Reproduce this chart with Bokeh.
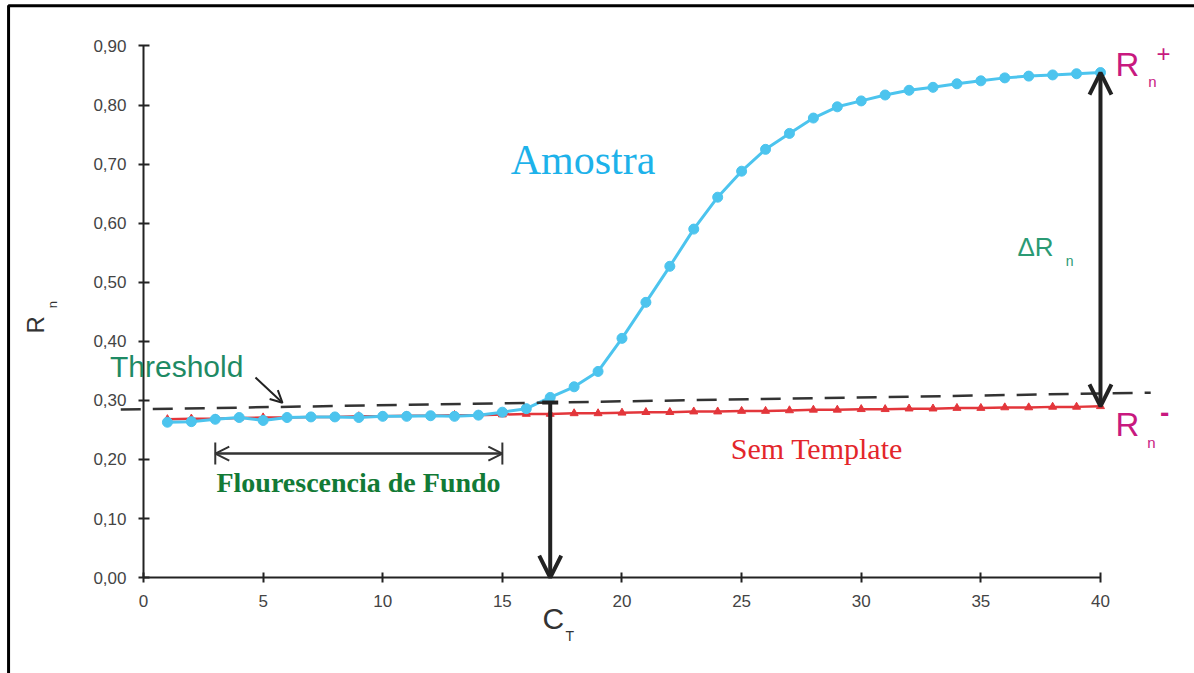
import math
import numpy as np
from bokeh.plotting import figure
from bokeh.models import (Range1d, Label, Arrow, OpenHead, TeeHead, BoxAnnotation,
                          FixedTicker, CustomJSTickFormatter)
from bokeh.embed import file_html
from bokeh.resources import INLINE

# amplification data (normalised reporter signal per cycle)
cycles = list(range(1, 41))
amostra = [0.263, 0.264, 0.268, 0.271, 0.266, 0.271, 0.272, 0.272, 0.271, 0.273,
           0.273, 0.274, 0.273, 0.275, 0.280, 0.286, 0.305, 0.323, 0.349, 0.405,
           0.466, 0.527, 0.590, 0.644, 0.688, 0.725, 0.752, 0.778, 0.797, 0.807,
           0.817, 0.825, 0.830, 0.836, 0.841, 0.846, 0.849, 0.851, 0.853, 0.855]
sem_template = [0.268, 0.269, 0.269, 0.270, 0.271, 0.271, 0.272, 0.272, 0.273, 0.273,
                0.274, 0.274, 0.275, 0.275, 0.276, 0.277, 0.277, 0.278, 0.278, 0.279,
                0.280, 0.280, 0.281, 0.281, 0.282, 0.282, 0.283, 0.284, 0.284, 0.285,
                0.285, 0.286, 0.286, 0.287, 0.287, 0.288, 0.288, 0.289, 0.289, 0.290]
threshold_x = [-0.95, 42.1]
threshold_y = [0.2845, 0.313]
ct_cycle = 17
fundo_range = [3, 15]
x_ticks = [0, 5, 10, 15, 20, 25, 30, 35, 40]
y_ticks = [0.0, 0.1, 0.2, 0.3, 0.4, 0.5, 0.6, 0.7, 0.8, 0.9]

SANS = "Liberation Sans"
SERIF = "Liberation Serif"
BLUE = "#4cc4ee"
RED = "#e3363b"
MAGENTA = "#c8197f"
INK = "#222222"

# the frame fills the whole canvas; axes are pinned at the data origin
p = figure(width=1194, height=673, output_backend="svg", toolbar_location=None,
           x_range=Range1d(-5.977, 43.93), y_range=Range1d(-0.1624, 0.977),
           min_border=0)
p.outline_line_color = None
p.grid.visible = False
p.background_fill_color = "white"

for ax, ticks, bounds in ((p.xaxis, x_ticks, (0, 40)), (p.yaxis, y_ticks, (0, 0.9))):
    ax.bounds = bounds
    ax.fixed_location = 0
    ax.ticker = FixedTicker(ticks=ticks)
    ax.axis_line_color = INK
    ax.axis_line_width = 2
    ax.major_tick_line_color = INK
    ax.major_tick_line_width = 2
    ax.minor_tick_line_color = None
    ax.major_label_text_font = SANS
    ax.major_label_text_font_size = "17px"
    ax.major_label_text_color = "#444444"

p.xaxis.major_tick_in = 5
p.xaxis.major_tick_out = 5
p.xaxis.major_label_standoff = 12
p.yaxis.major_tick_in = 6
p.yaxis.major_tick_out = 5
p.yaxis.major_label_standoff = 12
p.yaxis.formatter = CustomJSTickFormatter(code="return tick.toFixed(2).replace('.', ',');")
p.xaxis.formatter = CustomJSTickFormatter(code="return tick.toFixed(0);")

# outer frame (left and top edges)
p.add_layout(BoxAnnotation(left=-5.64, right=80, top=0.968, bottom=-2,
                           fill_alpha=0, line_color="black", line_alpha=1.0,
                           line_width=3))

# curves
p.line(cycles, sem_template, line_color=RED, line_width=2.5)
p.scatter(cycles, sem_template, marker="triangle", size=8, fill_color=RED,
          line_color=RED)
p.line(cycles, amostra, line_color=BLUE, line_width=3)
p.scatter(cycles, amostra, marker="circle", size=10, fill_color=BLUE,
          line_color=BLUE)

# threshold line
p.add_layout(Arrow(x_start=threshold_x[0], y_start=threshold_y[0],
                   x_end=threshold_x[1], y_end=threshold_y[1], start=None, end=None,
                   line_color="#333333", line_width=2.5, line_dash="20 12"))

# Ct arrow from threshold crossing down to the axis
ct_y = float(np.interp(ct_cycle, threshold_x, threshold_y))
p.add_layout(Arrow(x_start=ct_cycle, y_start=ct_y, x_end=ct_cycle, y_end=0,
                   start=TeeHead(size=16, line_width=4, line_color=INK),
                   end=OpenHead(size=22, line_width=4, line_color=INK),
                   line_color=INK, line_width=4))

# delta Rn arrow between the two plateaus
p.add_layout(Arrow(x_start=40, y_start=sem_template[-1], x_end=40, y_end=amostra[-1],
                   start=OpenHead(size=22, line_width=4, line_color=INK),
                   end=OpenHead(size=22, line_width=4, line_color=INK),
                   line_color=INK, line_width=4))

# background fluorescence window
p.add_layout(Arrow(x_start=fundo_range[0], y_start=0.21, x_end=fundo_range[1], y_end=0.21,
                   start=OpenHead(size=14, line_width=2, line_color="#333333"),
                   end=OpenHead(size=14, line_width=2, line_color="#333333"),
                   line_color="#333333", line_width=2))
p.add_layout(Arrow(x_start=fundo_range[0], y_start=0.21, x_end=fundo_range[1], y_end=0.21,
                   start=TeeHead(size=22, line_width=2, line_color="#333333"),
                   end=TeeHead(size=22, line_width=2, line_color="#333333"),
                   line_color="#333333", line_width=2))

# pointer to the threshold line
p.add_layout(Arrow(x_start=4.68, y_start=0.3386, x_end=5.81, y_end=0.296,
                   end=OpenHead(size=12, line_width=2, line_color=INK),
                   line_color=INK, line_width=2))


def label(x, y, text, font, size, color, **kw):
    p.add_layout(Label(x=x, y=y, text=text, text_font=font, text_font_size=size,
                       text_color=color, **kw))


label(15.35, 0.668, "Amostra", SERIF, "42px", "#1db2ea")
label(24.55, 0.190, "Sem Template", SERIF, "30px", "#e3262b")
label(3.05, 0.1355, "Flourescencia de Fundo", SERIF, "28px", "#127a36",
      text_font_style="bold")
label(-1.4, 0.329, "Threshold", SANS, "30px", "#1e8a64")

label(36.53, 0.535, "\u0394R", SANS, "26px", "#2a9a74")
label(38.55, 0.523, "n", SANS, "14px", "#2a9a74")

label(40.63, 0.8376, "R", SANS, "33px", MAGENTA)
label(42.0, 0.8257, "n", SANS, "15px", MAGENTA)
label(42.63, 0.8866, "+", SANS, "24px", MAGENTA, text_align="center",
      text_baseline="middle")

label(40.63, 0.2284, "R", SANS, "33px", MAGENTA)
label(41.96, 0.2149, "n", SANS, "15px", MAGENTA)
label(42.68, 0.279, "-", SANS, "28px", MAGENTA, text_align="center",
      text_baseline="middle", text_font_style="bold")

# axis titles with subscripts
label(-4.51, 0.428, "R", SANS, "24px", "#333333", angle=math.pi / 2,
      text_align="center", text_baseline="middle")
label(-3.80, 0.462, "n", SANS, "13px", "#333333", angle=math.pi / 2,
      text_align="center", text_baseline="middle")
label(16.68, -0.098, "C", SANS, "30px", "#333333")
label(17.64, -0.112, "T", SANS, "14px", "#333333")

open("out.html", "w").write(file_html(p, INLINE))
